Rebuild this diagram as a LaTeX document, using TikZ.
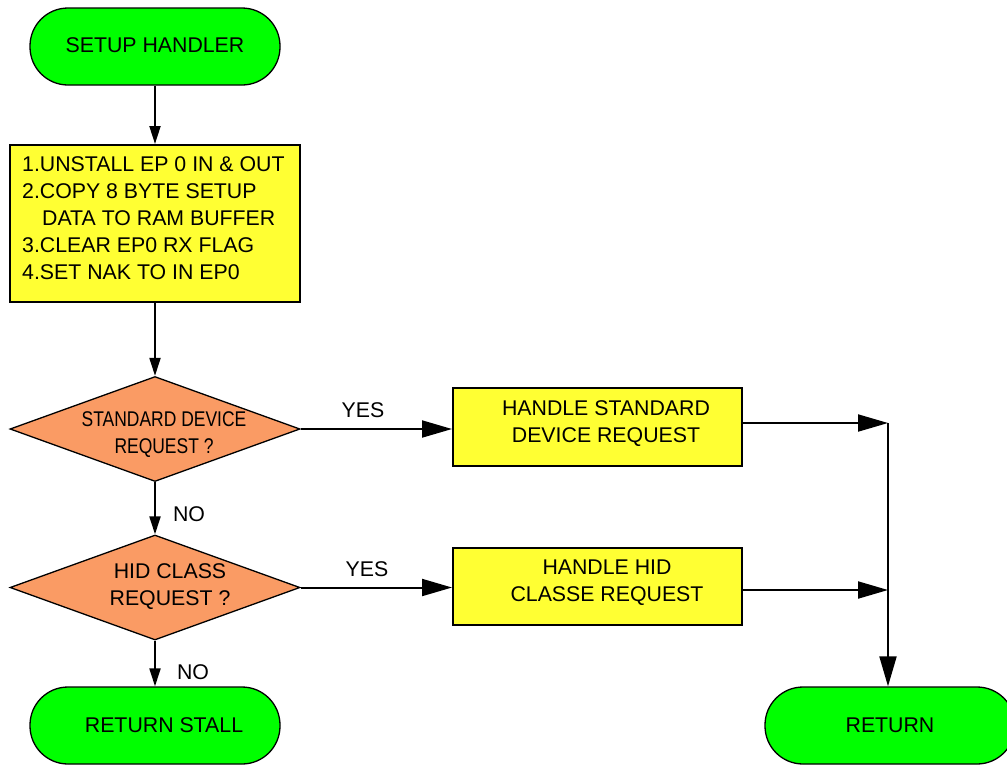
\documentclass[tikz,border=0pt]{standalone}
\usepackage{fontspec}
\usepackage{graphicx}
\setmainfont{Liberation Sans}
\usetikzlibrary{shapes.geometric,arrows.meta}
\definecolor{termgreen}{RGB}{0,255,0}
\definecolor{procyellow}{RGB}{255,255,51}
\definecolor{decorange}{RGB}{250,155,100}
\begin{document}
\begin{tikzpicture}[x=1pt,y=-1pt,
  term/.style={draw=black, line width=1.3pt, fill=termgreen, rectangle, rounded corners=38pt,
    minimum width=250pt, minimum height=77pt, inner sep=0pt},
  procbox/.style={draw=black, line width=2pt, fill=procyellow, rectangle, inner sep=0pt},
  decision/.style={draw=black, line width=1.3pt, fill=decorange, diamond,
    minimum width=290pt, minimum height=105pt, inner sep=0pt},
  txt/.style={font=\fontsize{21.3}{27}\selectfont, align=center, inner sep=0pt},
  conn/.style={line width=2pt},
  bigarr/.style={-{Triangle[length=30pt,width=17pt]}},
  smallarr/.style={-{Triangle[length=18pt,width=11pt]}},
]
\clip (0,0) rectangle (1007,764);
\fill[white] (0,0) rectangle (1007,764);

% terminals
\node[term] (setup) at (155,46.5) {};
\node[txt] (setuptxt) at (155,45) {SETUP HANDLER};
\node[term] (rstall) at (155,725.5) {};
\node[txt] (rstalltxt) at (164,725) {RETURN STALL};
\node[term] (ret) at (890,725.5) {};
\node[txt] (rettxt) at (890,725) {RETURN};

% process box
\node[procbox, minimum width=290pt, minimum height=157pt] (prep) at (155,223.5) {};
\node[txt, anchor=north west, align=left] (preptxt) at (22,156)
  {1.UNSTALL EP 0 IN \& OUT\\2.COPY 8 BYTE SETUP\\\hspace*{20pt}DATA TO RAM BUFFER\\3.CLEAR EP0 RX FLAG\\4.SET NAK TO IN EP0};

% decisions
\node[decision] (std) at (155,429) {};
\node[txt] (stdtxt) at (164,435) {\scalebox{0.82}[1]{STANDARD DEVICE}\\\scalebox{0.82}[1]{REQUEST ?}};
\node[decision] (hid) at (155,587.5) {};
\node[txt] (hidtxt) at (170,587) {HID CLASS\\REQUEST ?};

% handlers
\node[procbox, minimum width=289pt, minimum height=78pt] (hstd) at (597.5,427) {};
\node[txt] (hstdtxt) at (606,424) {HANDLE STANDARD\\DEVICE REQUEST};
\node[procbox, minimum width=289pt, minimum height=77pt] (hhid) at (597.5,586.5) {};
\node[txt] (hhidtxt) at (607,583) {HANDLE HID\\CLASSE REQUEST};

% labels
\node[txt] (yes1) at (363,410) {YES};
\node[txt] (yes2) at (367,569) {YES};
\node[txt] (no1) at (189,514) {NO};
\node[txt] (no2) at (193,672) {NO};

% junction
\coordinate (j1) at (888,423);
\coordinate (j2) at (888,590);

% connectors
\draw[conn, smallarr] (setup) -- (prep);
\draw[conn, smallarr] (prep) -- (std);
\draw[conn, smallarr] (std) -- (hid);
\draw[conn, smallarr] (hid) -- (rstall);
\draw[conn, bigarr] (std.east) -- (std.east -| hstd.west);
\draw[conn, bigarr] (hid.east) -- (hid.east -| hhid.west);
\draw[conn, bigarr] (hstd.east |- j1) -- (j1);
\draw[conn, bigarr] (hhid.east |- j2) -- (j2);
\draw[conn, bigarr] (j1) -- (j1 |- ret.north);
\end{tikzpicture}
\end{document}
